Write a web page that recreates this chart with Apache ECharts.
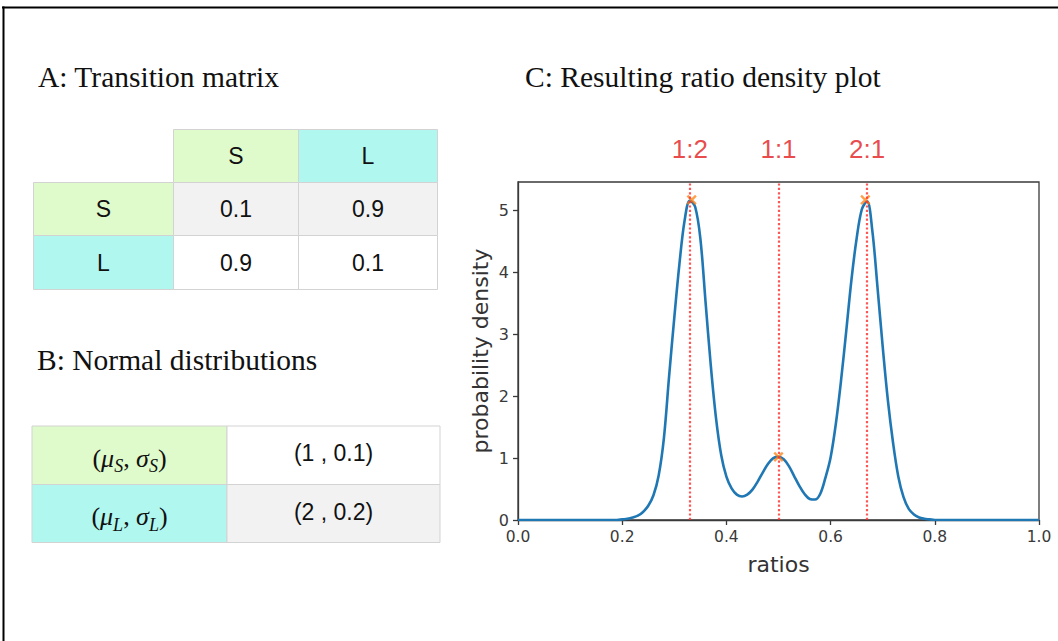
<!DOCTYPE html>
<html>
<head>
<meta charset="utf-8">
<script src="https://cdn.jsdelivr.net/npm/echarts@6/dist/echarts.min.js"></script>
<style>
  html, body { margin: 0; padding: 0; background: #ffffff; }
  #chart { width: 1058px; height: 641px; }
</style>
</head>
<body>
<div id="chart"></div>
<script>
// ---- Data ----
const stateNames = ['S', 'L'];
const transitionMatrix = [[0.1, 0.9], [0.9, 0.1]];
const normalParams = [[1, 0.1], [2, 0.2]];          // (mu, sigma) for S and L

const ratioValues = [
  0.00, 0.01, 0.02, 0.03, 0.04, 0.05, 0.06, 0.07, 0.08, 0.09,
  0.10, 0.11, 0.12, 0.13, 0.14, 0.15, 0.16, 0.17, 0.18, 0.19,
  0.20, 0.21, 0.22, 0.23, 0.24, 0.25, 0.26, 0.27, 0.28, 0.29,
  0.30, 0.31, 0.32, 0.33, 0.34, 0.35, 0.36, 0.37, 0.38, 0.39,
  0.40, 0.41, 0.42, 0.43, 0.44, 0.45, 0.46, 0.47, 0.48, 0.49,
  0.50, 0.51, 0.52, 0.53, 0.54, 0.55, 0.56, 0.57, 0.58, 0.59,
  0.60, 0.61, 0.62, 0.63, 0.64, 0.65, 0.66, 0.67, 0.68, 0.69,
  0.70, 0.71, 0.72, 0.73, 0.74, 0.75, 0.76, 0.77, 0.78, 0.79,
  0.80, 0.81, 0.82, 0.83, 0.84, 0.85, 0.86, 0.87, 0.88, 0.89,
  0.90, 0.91, 0.92, 0.93, 0.94, 0.95, 0.96, 0.97, 0.98, 0.99,
  1.00
];
const densityValues = [
  0, 0, 0, 0, 0, 0, 0, 0, 0, 0,
  0, 0, 0, 0, 0, 0, 0, 0, 0, 0,
  0.01, 0.02, 0.04, 0.07, 0.13, 0.23, 0.40, 0.72, 1.32, 2.32,
  3.27, 4.15, 4.85, 5.16, 5.06, 4.55, 3.52, 2.50, 1.65, 1.05,
  0.70, 0.51, 0.41, 0.38, 0.41, 0.49, 0.62, 0.77, 0.91, 1.00,
  1.02, 0.98, 0.87, 0.71, 0.55, 0.42, 0.34, 0.33, 0.42, 0.68,
  1.01, 1.55, 2.25, 3.05, 3.88, 4.55, 5.02, 5.15, 4.68, 3.76,
  2.80, 1.93, 1.24, 0.70, 0.37, 0.18, 0.09, 0.04, 0.02, 0.01,
  0, 0, 0, 0, 0, 0, 0, 0, 0, 0,
  0, 0, 0, 0, 0, 0, 0, 0, 0, 0,
  0
];

const peakRatios = [1 / 3, 1 / 2, 2 / 3];
const peakDensities = [5.17, 1.02, 5.17];
const peakLabels = ['1:2', '1:1', '2:1'];
const yTicks = [0, 1, 2, 3, 4, 5];

// ---- Styles ----
const GREEN = '#e0fbcb';
const CYAN = '#b0f8ef';
const GRAY = '#f2f2f2';
const CELL_LINE = '#d3d3d3';
const stateFill = { S: GREEN, L: CYAN };
const SERIF = "'Liberation Serif', 'Times New Roman', 'DejaVu Serif', serif";
const SANS = "'Liberation Sans', Arial, Helvetica, sans-serif";
const MPL = "'DejaVu Sans', sans-serif";

function cell(x0, x1, y0, y1, fill) {
  return {
    type: 'rect', silent: true,
    shape: { x: x0, y: y0, width: x1 - x0, height: y1 - y0 },
    style: { fill: fill, stroke: CELL_LINE, lineWidth: 1 }
  };
}
function cellText(text, cx, cy, extra) {
  return {
    type: 'text', silent: true, x: cx, y: cy,
    style: Object.assign({
      text: text, align: 'center', verticalAlign: 'middle',
      textAlign: 'center', textVerticalAlign: 'middle',
      fontFamily: SANS, fontSize: 23, fill: '#111'
    }, extra || {})
  };
}
function title(text, x, cy) {
  return {
    type: 'text', silent: true, x: x, y: cy,
    style: {
      text: text, align: 'left', verticalAlign: 'middle',
      textAlign: 'left', textVerticalAlign: 'middle',
      fontFamily: SERIF, fontSize: 29.5, fill: '#111'
    }
  };
}

const graphics = [];

// frame lines of the figure
graphics.push({ type: 'line', silent: true, shape: { x1: 2, y1: 7.5, x2: 1058, y2: 7.5 }, style: { stroke: '#000', lineWidth: 2 } });
graphics.push({ type: 'line', silent: true, shape: { x1: 3.5, y1: 6.5, x2: 3.5, y2: 641 }, style: { stroke: '#000', lineWidth: 2 } });

// A: transition matrix
graphics.push(title('A: Transition matrix', 38, 77));
const aCols = [33.5, 173.5, 298.5, 437.5];
const aRows = [129.5, 182.5, 235.5, 289.5];
stateNames.forEach((name, j) => {
  graphics.push(cell(aCols[j + 1], aCols[j + 2], aRows[0], aRows[1], stateFill[name]));
  graphics.push(cellText(name, (aCols[j + 1] + aCols[j + 2]) / 2, (aRows[0] + aRows[1]) / 2));
});
stateNames.forEach((name, i) => {
  const y0 = aRows[i + 1], y1 = aRows[i + 2];
  graphics.push(cell(aCols[0], aCols[1], y0, y1, stateFill[name]));
  graphics.push(cellText(name, (aCols[0] + aCols[1]) / 2, (y0 + y1) / 2));
  transitionMatrix[i].forEach((p, j) => {
    graphics.push(cell(aCols[j + 1], aCols[j + 2], y0, y1, i === 0 ? GRAY : '#ffffff'));
    graphics.push(cellText(p.toFixed(1), (aCols[j + 1] + aCols[j + 2]) / 2, (y0 + y1) / 2));
  });
});

// B: normal distributions
graphics.push(title('B: Normal distributions', 37, 360));
const bCols = [32, 227, 440];
const bRows = [426, 484.5, 542.5];
const mathRich = {
  p: { fontFamily: SERIF, fontSize: 26, lineHeight: 34, fill: '#111' },
  g: { fontFamily: SERIF, fontSize: 26, fontStyle: 'italic', lineHeight: 34, fill: '#111' },
  s: { fontFamily: SERIF, fontSize: 18, fontStyle: 'italic', lineHeight: 18, verticalAlign: 'bottom', fill: '#111' }
};
stateNames.forEach((name, i) => {
  const y0 = bRows[i], y1 = bRows[i + 1], cy = (y0 + y1) / 2;
  graphics.push(cell(bCols[0], bCols[1], y0, y1, stateFill[name]));
  graphics.push(cell(bCols[1], bCols[2], y0, y1, i === 0 ? '#ffffff' : GRAY));
  graphics.push(cellText('{p|(}{g|μ}{s|' + name + '}{p|, }{g|σ}{s|' + name + '}{p|)}',
    (bCols[0] + bCols[1]) / 2, cy + 3, { rich: mathRich }));
  const mu = normalParams[i][0], sigma = normalParams[i][1];
  graphics.push(cellText('(' + mu + ' , ' + sigma + ')', (bCols[1] + bCols[2]) / 2, cy - 2));
});

// C: title of the density panel
graphics.push(title('C: Resulting ratio density plot', 525, 77));

// X-shaped marker (plus sign rotated by 45 degrees)
const crossPath = 'path://M4,0H6V4H10V6H6V10H4V6H0V4H4Z';

const chart = echarts.init(document.getElementById('chart'), null, { renderer: 'svg' });
chart.setOption({
  animation: false,
  backgroundColor: '#ffffff',
  graphic: { elements: graphics },
  grid: {
    left: 518, top: 182, right: 19, bottom: 121,
    show: true, borderColor: '#3a3a3a', borderWidth: 1.3, backgroundColor: 'transparent'
  },
  xAxis: {
    type: 'value', min: 0, max: 1, interval: 0.2,
    name: 'ratios', nameLocation: 'middle', nameGap: 33,
    nameTextStyle: { fontFamily: MPL, fontSize: 22, color: '#333' },
    axisLine: { show: true, onZero: false, lineStyle: { color: '#3a3a3a', width: 1.3 } },
    axisTick: { show: true, inside: false, length: 5, lineStyle: { color: '#3a3a3a', width: 1.3 } },
    axisLabel: { fontFamily: MPL, fontSize: 15.5, color: '#3a3a3a', margin: 9, formatter: v => v.toFixed(1) },
    splitLine: { show: false }
  },
  yAxis: {
    type: 'value', min: 0, max: 5.46, interval: 1,
    name: 'probability density', nameLocation: 'middle', nameGap: 27,
    nameTextStyle: { fontFamily: MPL, fontSize: 22, color: '#333' },
    axisLine: { show: true, onZero: false, lineStyle: { color: '#3a3a3a', width: 1.3 } },
    axisTick: { show: true, inside: false, length: 5, customValues: yTicks, lineStyle: { color: '#3a3a3a', width: 1.3 } },
    axisLabel: {
      fontFamily: MPL, fontSize: 16, color: '#3a3a3a', margin: 9, customValues: yTicks,
      formatter: v => (Number.isInteger(v) ? String(v) : '')
    },
    splitLine: { show: false }
  },
  series: [
    {
      type: 'line',
      data: ratioValues.map((r, i) => [r, densityValues[i]]),
      smooth: 0.35,
      symbol: 'none',
      lineStyle: { color: '#1f77b4', width: 2.6 },
      z: 2,
      markLine: {
        silent: true,
        symbol: ['none', 'none'],
        animation: false,
        lineStyle: { color: '#ff2a2a', type: [2.2, 2.2], width: 2.2, opacity: 0.8 },
        label: {
          show: true, position: 'end', distance: 20,
          color: '#e31a1c', fontFamily: SANS, fontSize: 26
        },
        data: peakRatios.map((r, i) => ({ xAxis: r, label: { formatter: peakLabels[i] } }))
      }
    },
    {
      type: 'scatter',
      data: peakRatios.map((r, i) => [r, peakDensities[i]]),
      symbol: crossPath,
      symbolRotate: 45,
      symbolSize: 12,
      itemStyle: { color: '#ff7f0e', opacity: 0.75 },
      z: 4
    }
  ]
});
</script>
</body>
</html>
